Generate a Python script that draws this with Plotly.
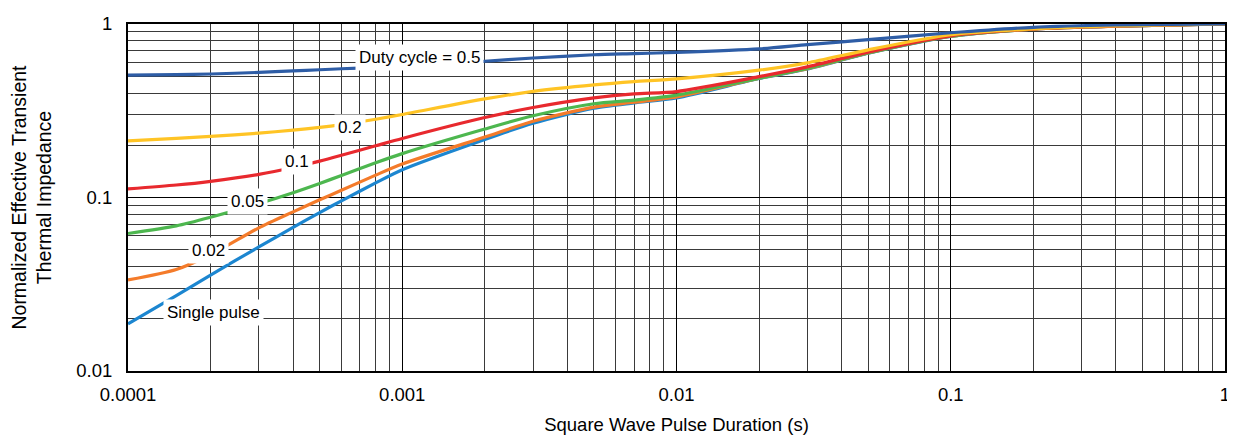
import math
import plotly.graph_objects as go

pulse_s = [1e-4, 1.5e-4, 2e-4, 3e-4, 4e-4, 5e-4, 6e-4, 8e-4, 1e-3, 2e-3, 3e-3, 5e-3, 7e-3,
           1e-2, 2e-2, 3e-2, 5e-2, 0.1, 0.2, 0.4, 1.0]

z_d05 = [0.508, 0.511, 0.515, 0.526, 0.537, 0.545, 0.552, 0.563, 0.573, 0.61, 0.637, 0.665, 0.675,
         0.686, 0.719, 0.761, 0.812, 0.89, 0.957, 0.987, 1.0]
z_d02 = [0.212, 0.219, 0.225, 0.235, 0.2445, 0.2535, 0.263, 0.2825, 0.301, 0.37, 0.409, 0.446, 0.466,
         0.483, 0.542, 0.597, 0.71, 0.867, 0.937, 0.974, 1.0]
z_d01 = [0.112, 0.118, 0.124, 0.136, 0.149, 0.162, 0.175, 0.1986, 0.219, 0.289, 0.330, 0.375, 0.396,
         0.408, 0.497, 0.566, 0.689, 0.855, 0.935, 0.972, 1.0]
z_d005 = [0.062, 0.0686, 0.0769, 0.0923, 0.1066, 0.1205, 0.134, 0.1585, 0.179, 0.248, 0.296, 0.347, 0.364,
          0.389, 0.487, 0.555, 0.68, 0.85, 0.935, 0.972, 1.0]
z_d002 = [0.0335, 0.0385, 0.0468, 0.0668, 0.0826, 0.097, 0.110, 0.1346, 0.156, 0.223, 0.275, 0.332, 0.354,
          0.38, 0.487, 0.553, 0.68, 0.85, 0.935, 0.972, 1.0]
z_single = [0.0187, 0.0272, 0.0357, 0.0519, 0.0673, 0.0819, 0.0957, 0.1213, 0.1445, 0.216, 0.268, 0.327, 0.351,
            0.375, 0.485, 0.55, 0.678, 0.848, 0.935, 0.972, 1.0]

series = [
    ("Single pulse", z_single, "#1C86D0"),
    ("0.02", z_d002, "#F47B2A"),
    ("0.05", z_d005, "#4DB74F"),
    ("0.1", z_d01, "#E8292E"),
    ("0.2", z_d02, "#FFC425"),
    ("Duty cycle = 0.5", z_d05, "#2E5DA6"),
]

label_x = [2.05e-4, 1.97e-4, 2.72e-4, 4.13e-4, 6.44e-4, 1.16e-3]
label_y = [0.0216, 0.0495, 0.0949, 0.162, 0.252, 0.642]

x_tick_vals = [1e-4, 1e-3, 1e-2, 1e-1, 1]
x_tick_text = ["0.0001", "0.001", "0.01", "0.1", "1"]
y_tick_vals = [0.01, 0.1, 1]
y_tick_text = ["0.01", "0.1", "1"]

FONT = "Liberation Sans, Arial, sans-serif"

fig = go.Figure()
for name, ys, col in series:
    fig.add_trace(go.Scatter(x=pulse_s, y=ys, mode="lines", name=name,
                             line=dict(color=col, width=3.2, shape="spline", smoothing=0.7),
                             showlegend=False))

for (name, _, _), lx, ly in zip(series, label_x, label_y):
    fig.add_annotation(x=math.log10(lx), y=math.log10(ly), xref="x", yref="y",
                       text=name, showarrow=False,
                       bgcolor="white", borderpad=3,
                       font=dict(family=FONT, size=17, color="black"))

axis_common = dict(type="log", showline=True, linecolor="black", linewidth=2, mirror=True,
                   showgrid=True, gridcolor="black", gridwidth=1.2,
                   ticks="", zeroline=False,
                   tickfont=dict(family=FONT, size=18.5, color="black"),
                   minor=dict(dtick="D1", showgrid=True, gridcolor="#3a3a3a", gridwidth=1, ticks=""))

fig.update_xaxes(range=[-4, 0],
                 tickvals=x_tick_vals, ticktext=x_tick_text,
                 ticklabelstandoff=6,
                 title=dict(text="Square Wave Pulse Duration (s)", standoff=14,
                            font=dict(family=FONT, size=18.5, color="black")),
                 **axis_common)
fig.update_yaxes(range=[-2, 0],
                 tickvals=y_tick_vals, ticktext=y_tick_text,
                 ticklabelstandoff=10,
                 title=dict(text="Normalized Effective Transient<br>Thermal Impedance", standoff=24,
                            font=dict(family=FONT, size=19.5, color="black")),
                 **axis_common)

fig.update_layout(width=1227, height=429, plot_bgcolor="white", paper_bgcolor="white",
                  margin=dict(l=119, r=5, t=11, b=64))

fig.write_html("out.html")
